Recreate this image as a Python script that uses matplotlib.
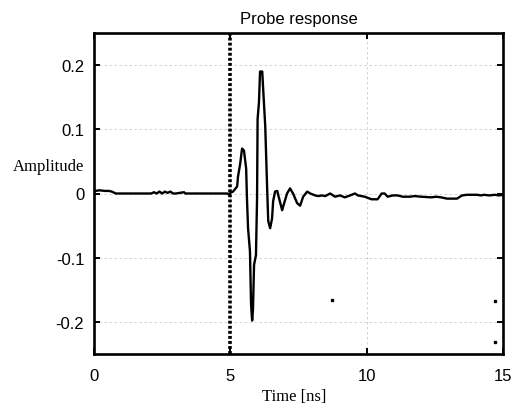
import matplotlib
matplotlib.use("Agg")
import matplotlib.pyplot as plt

plt.rcParams["axes.unicode_minus"] = False

# probe response trace
time_ns = [0.0, 0.05, 0.2, 0.4, 0.55, 0.65, 0.8, 0.9, 2.1, 2.2, 2.3, 2.4, 2.5,
           2.6, 2.7, 2.8, 2.9, 3.0, 3.3, 3.35, 4.9, 4.95, 5.0, 5.1, 5.25, 5.28,
           5.36, 5.43, 5.50, 5.58, 5.61, 5.65, 5.72, 5.76, 5.80, 5.83, 5.87,
           5.94, 5.98, 6.00, 6.05, 6.09, 6.17, 6.20, 6.28, 6.35, 6.39, 6.46,
           6.53, 6.57, 6.64, 6.72, 6.79, 6.90, 6.94, 7.08, 7.19, 7.30, 7.45,
           7.56, 7.67, 7.82, 7.93, 8.11, 8.22, 8.37, 8.48, 8.66, 8.84, 9.02,
           9.20, 9.39, 9.57, 9.68, 9.93, 10.18, 10.40, 10.55, 10.66, 10.77,
           10.95, 11.14, 11.32, 11.58, 11.76, 12.0, 12.37, 12.55, 12.73, 12.95,
           13.31, 13.50, 13.68, 14.05, 14.2, 14.3, 14.5, 14.7, 14.85, 15.0]
amplitude = [0.002, 0.004, 0.005, 0.004, 0.004, 0.003, 0.0, 0.0, 0.0, 0.002,
             0.0, 0.003, 0.0, 0.003, 0.001, 0.003, 0.0, 0.0, 0.002, 0.0, 0.0,
             -0.002, 0.001, 0.003, 0.011, 0.026, 0.046, 0.070, 0.067, 0.039,
             -0.008, -0.054, -0.090, -0.173, -0.198, -0.181, -0.111, -0.096,
             -0.008, 0.116, 0.142, 0.190, 0.190, 0.166, 0.105, 0.008, -0.043,
             -0.054, -0.039, -0.012, 0.003, 0.004, -0.008, -0.026, -0.020,
             0.000, 0.008, 0.000, -0.015, -0.019, -0.005, 0.003, 0.000,
             -0.003, -0.004, -0.003, -0.004, 0.000, -0.005, -0.003, -0.006,
             -0.003, 0.000, -0.003, -0.005, -0.009, -0.009, 0.000, 0.000,
             -0.005, -0.003, -0.003, -0.005, -0.005, -0.004, -0.005, -0.006,
             -0.005, -0.006, -0.008, -0.008, -0.003, -0.002, -0.002, -0.003,
             -0.002, -0.003, -0.002, -0.003, -0.002]

# stray single points
stray_t = [8.73, 14.72, 14.72]
stray_a = [-0.166, -0.167, -0.232]

trigger_t = 5.0
xticks = [0, 5, 10, 15]
yticks = [-0.2, -0.1, 0, 0.1, 0.2]
ytick_labels = ["-0.2", "-0.1", "0", "0.1", "0.2"]

fig = plt.figure(figsize=(5.14, 4.06), dpi=100)
ax = fig.add_axes([94 / 514, 1 - 355 / 406, 409 / 514, 321 / 406])

ax.plot(time_ns, amplitude, color="black", lw=1.7)
ax.plot(stray_t, stray_a, ls="none", marker="s", ms=1.6, color="black")
ax.axvline(trigger_t, color="black", lw=2.6, ls=(0, (0.8, 0.6)))

ax.set_xlim(0, 15)
ax.set_ylim(-0.25, 0.25)
ax.set_xticks(xticks)
ax.set_yticks(yticks)
ax.set_yticklabels(ytick_labels)
ax.grid(True, color="#cccccc", lw=0.6, ls=(0, (3, 3)))
ax.tick_params(direction="in", top=True, right=True, length=4, width=1.4,
               labelsize=12, pad=7)
ax.tick_params(axis="x", pad=10)
for lbl in ax.get_xticklabels() + ax.get_yticklabels():
    lbl.set_fontfamily("Liberation Sans")
for sp in ax.spines.values():
    sp.set_linewidth(1.9)

ax.set_title("Probe response", fontsize=12, family="Liberation Sans", pad=7)
fig.text(84 / 514, 1 - 167 / 406, "Amplitude", ha="right", va="center",
         fontsize=12, family="Liberation Serif")
fig.text(294 / 514, 1 / 406, "Time [ns]", ha="center", va="bottom",
         fontsize=12, family="Liberation Serif")

fig.savefig("out.png", dpi=100)
